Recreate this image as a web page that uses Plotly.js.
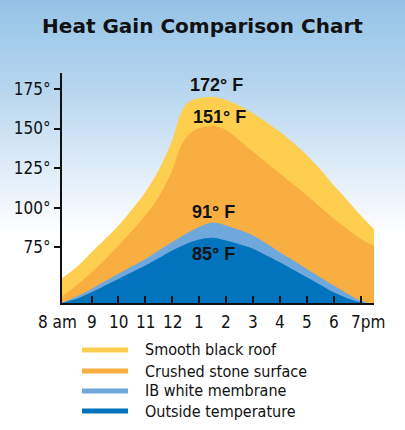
<!DOCTYPE html>
<html><head><meta charset="utf-8">
<script src="https://cdn.plot.ly/plotly-3.0.1.min.js"></script>
<style>
html,body{margin:0;padding:0;background:#fff;}
#chart{width:405px;height:430px;background:linear-gradient(to bottom,#95c3e7 0px,#b7d6ef 90px,#e2eef9 175px,#ffffff 235px,#ffffff 430px);}
</style></head><body><div id="chart"></div>
<script>
// Time of day (hours, 24h clock)
const hours = [7.9, 8.5, 9, 9.5, 10, 10.5, 11, 11.5, 12, 12.25, 12.5, 12.75, 13, 13.5, 14, 14.5, 15, 15.5, 16, 16.5, 17, 17.5, 18, 18.5, 19, 19.5];
// Temperatures (°F)
const roofTemps     = [55.6, 63.5, 72, 80.3, 88.9, 99, 110, 124, 142.7, 156.4, 165, 168, 169.1, 170, 168, 164.3, 159.6, 154, 148, 141, 133.2, 124.3, 114.2, 105, 95.3, 86.5];
const stoneTemps    = [44.2, 52, 59.4, 67.5, 76.3, 85.5, 95.3, 107, 123.7, 136, 144, 148, 150.1, 151.7, 149, 142.5, 135.3, 128.5, 121.6, 114.8, 107.9, 100.5, 93.2, 86.8, 80.5, 76];
const membraneTemps = [40, 44.5, 48.9, 53.7, 58.4, 63.1, 67.8, 73.1, 78.4, 81, 83.5, 85.8, 87.9, 90.8, 88.9, 86, 82.6, 77.5, 72, 66.8, 61.5, 56.3, 51, 46, 41.5, 39];
const outsideTemps  = [40, 43, 46.7, 51, 55.2, 59.4, 63.6, 68.3, 73.1, 75.2, 77, 78.7, 80.1, 81.2, 79.4, 77, 74.2, 70, 65.7, 61, 56.2, 51.5, 46.7, 43, 40.5, 39];

const seriesNames  = ['Smooth black roof', 'Crushed stone surface', 'IB white membrane', 'Outside temperature'];
const seriesValues = [roofTemps, stoneTemps, membraneTemps, outsideTemps];
const seriesColors = ['#fecf4f', '#f9ae42', '#6fa8dc', '#0274be'];

const xTickVals = [8, 9, 10, 11, 12, 13, 14, 15, 16, 17, 18, 19];
const xTickText = ['8 am', '9', '10', '11', '12', '1', '2', '3', '4', '5', '6', '7pm'];
const yTickVals = [75, 100, 125, 150, 175];
const yTickText = ['75°', '100°', '125°', '150°', '175°'];

const peakLabels = ['172° F', '151° F', '91° F', '85° F'];
const peakLabelX = [13.66, 13.74, 13.55, 13.55];
const peakLabelY = [177.5, 157.3, 97.2, 71.2];

const narrow = 'DejaVu Sans Condensed, Liberation Sans Narrow, sans-serif';
const boldFam = 'Liberation Sans, Arial, sans-serif';
const titleFam = 'DejaVu Sans, sans-serif';

const traces = seriesNames.map((name, i) => ({
  type: 'scatter', mode: 'lines', name: name,
  x: hours, y: seriesValues[i],
  fill: 'tozeroy', fillcolor: seriesColors[i],
  line: {width: 0, shape: 'spline', smoothing: 0.9, color: seriesColors[i]},
  showlegend: false, hoverinfo: 'skip'
}));

const legendRowsY = [-0.2043, -0.2957, -0.3826, -0.4696];
const shapes = seriesNames.map((n, i) => ({
  type: 'line', xref: 'paper', yref: 'paper',
  x0: 0.0641, x1: 0.2115, y0: legendRowsY[i], y1: legendRowsY[i],
  line: {color: seriesColors[i], width: 5}
}));

// hour labels under the axis (first and last nudged outward as in the original)
const hourLabels = xTickText.map((t, i) => ({
  xref: 'x', yref: 'paper', x: xTickVals[i], y: -0.083,
  xanchor: 'center', yanchor: 'middle', text: t, showarrow: false,
  xshift: i === 0 ? -7 : (i === xTickText.length - 1 ? 7 : 0),
  font: {family: narrow, size: 17, color: '#111'}
}));

const annotations = seriesNames.map((n, i) => ({
  xref: 'paper', yref: 'paper', x: 0.259, y: legendRowsY[i],
  xanchor: 'left', yanchor: 'middle', text: n, showarrow: false,
  font: {family: narrow, size: 16, color: '#111'}
})).concat(peakLabels.map((t, i) => ({
  xref: 'x', yref: 'y', x: peakLabelX[i], y: peakLabelY[i],
  xanchor: 'center', yanchor: 'middle', text: t, showarrow: false,
  font: {family: boldFam, size: 18, weight: 'bold', color: '#111'}
}))).concat(hourLabels);

const layout = {
  width: 405, height: 430,
  margin: {l: 62, r: 31, t: 73, b: 127},
  paper_bgcolor: 'rgba(0,0,0,0)', plot_bgcolor: 'rgba(0,0,0,0)',
  title: {text: 'Heat Gain Comparison Chart', x: 0.5, xref: 'container', xanchor: 'center',
          y: 1 - 26/430, yref: 'container', yanchor: 'middle',
          font: {family: titleFam, size: 20, weight: 'bold', color: '#111'}},
  xaxis: {range: [7.9, 19.5], tickmode: 'array', tickvals: xTickVals.slice(1),
          showticklabels: false,
          ticks: 'inside', ticklen: 7, tickwidth: 2, tickcolor: '#111',
          showline: true, linecolor: '#111', linewidth: 2, showgrid: false, zeroline: false,
          fixedrange: true},
  yaxis: {range: [40, 185], tickmode: 'array', tickvals: yTickVals, ticktext: yTickText,
          ticks: 'outside', ticklen: 6, tickwidth: 2, tickcolor: '#111',
          showline: true, linecolor: '#111', linewidth: 2, showgrid: false, zeroline: false,
          tickfont: {family: narrow, size: 17, color: '#111'}, fixedrange: true},
  shapes: shapes,
  annotations: annotations,
  showlegend: false
};

Plotly.newPlot('chart', traces, layout, {displayModeBar: false, staticPlot: true});
</script></body></html>
